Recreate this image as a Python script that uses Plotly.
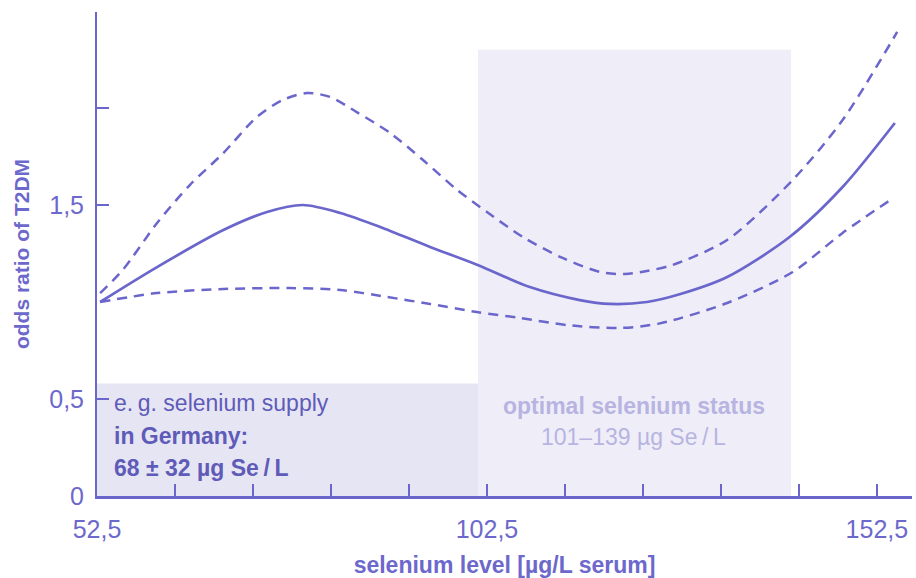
import plotly.graph_objects as go

# Odds ratio curve (solid) and 95% CI bounds (dashed)
x_or = [52.9, 60.2, 68.7, 74.3, 78.9, 83.7, 88.8, 95.2, 101.3, 108.0, 114.4, 118.3, 123.0, 127.2, 133.3, 141.3, 148.1, 154.8]
y_or = [1.00, 1.18, 1.371, 1.464, 1.50, 1.459, 1.387, 1.284, 1.191, 1.077, 1.010, 0.990, 1.000, 1.040, 1.129, 1.335, 1.593, 1.923]

x_up = [52.9, 55.8, 60.2, 64.4, 68.7, 73.0, 76.3, 79.4, 82.4, 85.8, 90.1, 94.3, 98.7, 102.5, 107.1, 112.2, 117.0, 120.2, 123.0, 126.3, 133.3, 141.7, 148.1, 155.1]
y_up = [1.046, 1.165, 1.407, 1.603, 1.768, 1.954, 2.041, 2.077, 2.057, 1.979, 1.871, 1.732, 1.577, 1.464, 1.335, 1.227, 1.155, 1.144, 1.160, 1.191, 1.320, 1.629, 1.938, 2.392]

x_lo = [52.9, 60.2, 68.7, 77.2, 83.7, 89.7, 95.2, 101.2, 106.7, 112.8, 119.5, 124.7, 133.3, 141.7, 148.1, 154.6]
y_lo = [1.000, 1.046, 1.067, 1.072, 1.062, 1.026, 0.990, 0.948, 0.918, 0.881, 0.866, 0.890, 0.995, 1.155, 1.356, 1.536]

# Shaded ranges
germany_range = [52.5, 101.35]
germany_top = 0.58
optimal_range = [101.35, 141.5]
optimal_top = 2.30

x_tickvals = [52.5, 62.5, 72.5, 82.5, 92.5, 102.5, 112.5, 122.5, 132.5, 142.5, 152.5]
x_ticktext = ["52,5", "", "", "", "", "102,5", "", "", "", "", "152,5"]
y_tickvals = [0, 0.5, 1.5, 2.0]
y_ticktext = ["0", "0,5", "1,5", ""]

LINE = "#6b66cc"
TXT = "#6c68cc"
BOXTXT = "#5f5bb8"
OPTTXT = "#b7b4e2"

fig = go.Figure()

fig.add_shape(type="rect", xref="x", yref="y", x0=optimal_range[0], x1=optimal_range[1],
              y0=0, y1=optimal_top, fillcolor="#efeef8", line_width=0, layer="below")
fig.add_shape(type="rect", xref="x", yref="y", x0=germany_range[0], x1=germany_range[1],
              y0=0, y1=germany_top, fillcolor="#e6e5f4", line_width=0, layer="below")

DASH = "10px,7px"
fig.add_trace(go.Scatter(x=x_up, y=y_up, mode="lines",
                         line=dict(color=LINE, width=2.5, dash=DASH, shape="spline", smoothing=0.8),
                         hoverinfo="skip"))
fig.add_trace(go.Scatter(x=x_lo, y=y_lo, mode="lines",
                         line=dict(color=LINE, width=2.5, dash=DASH, shape="spline", smoothing=0.8),
                         hoverinfo="skip"))
fig.add_trace(go.Scatter(x=x_or, y=y_or, mode="lines",
                         line=dict(color=LINE, width=2.7, shape="spline", smoothing=0.8),
                         hoverinfo="skip"))

FONT = "Liberation Sans"

fig.add_annotation(x=54.4, y=0.479, xref="x", yref="y", text="e.\u2009g. selenium supply", showarrow=False,
                   xanchor="left", yanchor="middle", font=dict(family=FONT, size=23, color=BOXTXT))
fig.add_annotation(x=54.4, y=0.309, xref="x", yref="y", text="<b>in Germany:</b>", showarrow=False,
                   xanchor="left", yanchor="middle", font=dict(family=FONT, size=23, color=BOXTXT))
fig.add_annotation(x=54.4, y=0.144, xref="x", yref="y", text="<b>68 ± 32 µg Se\u2009/\u2009L</b>", showarrow=False,
                   xanchor="left", yanchor="middle", font=dict(family=FONT, size=23, color=BOXTXT))
fig.add_annotation(x=121.3, y=0.464, xref="x", yref="y", text="<b>optimal selenium status</b>", showarrow=False,
                   xanchor="center", yanchor="middle", font=dict(family=FONT, size=23, color=OPTTXT))
fig.add_annotation(x=121.3, y=0.304, xref="x", yref="y", text="101–139 µg Se\u2009/\u2009L", showarrow=False,
                   xanchor="center", yanchor="middle", font=dict(family=FONT, size=23, color=OPTTXT))

fig.update_layout(
    width=916, height=578,
    margin=dict(l=97, r=4, t=12, b=82),
    plot_bgcolor="white", paper_bgcolor="white",
    showlegend=False,
    xaxis=dict(range=[52.5, 157], showgrid=False, zeroline=False, automargin=False,
               showline=True, linecolor=LINE, linewidth=3,
               tickmode="array", tickvals=x_tickvals, ticktext=x_ticktext,
               ticks="inside", ticklen=12, tickwidth=2, tickcolor=LINE,
               ticklabelstandoff=9,
               tickfont=dict(family=FONT, size=25, color=TXT),
               title=dict(text="<b>selenium level [µg/L serum]</b>", standoff=15,
                          font=dict(family=FONT, size=23, color=TXT))),
    yaxis=dict(range=[0, 2.495], showgrid=False, zeroline=False, automargin=False,
               showline=True, linecolor=LINE, linewidth=2,
               tickmode="array", tickvals=y_tickvals, ticktext=y_ticktext,
               ticks="inside", ticklen=12, tickwidth=2, tickcolor=LINE,
               ticklabelstandoff=6,
               tickfont=dict(family=FONT, size=25, color=TXT),
               title=dict(text="<b>odds ratio of T2DM</b>", standoff=14,
                          font=dict(family=FONT, size=21, color=TXT))),
)

fig.write_html("out.html", config={"displayModeBar": False},
               post_script="document.body.style.margin='0px';")
